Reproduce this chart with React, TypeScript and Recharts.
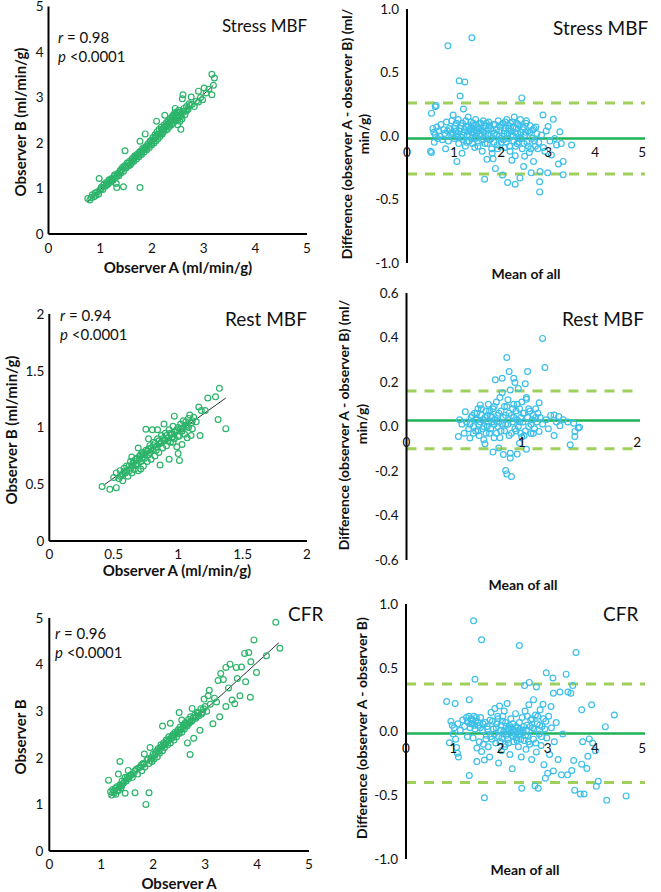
import { ScatterChart, Scatter, XAxis, YAxis, ReferenceLine, ReferenceDot } from 'recharts'

// [observer A, observer B] pairs
const stressPairs: [number, number][] = [
  [0.76, 0.78], [0.8, 0.75], [0.83, 0.8], [0.85, 0.86], [0.88, 0.82], [0.9, 0.9], [0.92, 0.85], [0.95, 0.93],
  [0.97, 0.88], [0.98, 1.22], [1.0, 0.97], [1.02, 1.03], [1.05, 0.98], [1.07, 1.08], [1.1, 1.05], [1.12, 1.13],
  [1.15, 1.1], [1.17, 1.19], [1.2, 1.14], [1.22, 1.22], [1.25, 1.18], [1.27, 1.27], [1.3, 1.24], [1.31, 1.11],
  [1.32, 1.02], [1.34, 1.33], [1.36, 1.28], [1.38, 1.38], [1.4, 1.34], [1.42, 1.42], [1.45, 1.04], [1.45, 1.38],
  [1.47, 1.5], [1.48, 1.83], [1.5, 1.45], [1.52, 1.56], [1.55, 1.5], [1.57, 1.6], [1.6, 1.55], [1.62, 1.66],
  [1.65, 1.6], [1.67, 1.72], [1.7, 1.65], [1.72, 1.76], [1.75, 1.7], [1.77, 2.04], [1.77, 1.02], [1.78, 1.82],
  [1.8, 1.75], [1.82, 1.88], [1.85, 1.8], [1.87, 2.2], [1.88, 1.92], [1.9, 1.85], [1.92, 1.98], [1.95, 1.9],
  [1.97, 2.05], [2.0, 1.96], [2.02, 2.12], [2.04, 2.0], [2.06, 2.18], [2.08, 2.05], [2.09, 2.48], [2.1, 2.25],
  [2.12, 2.1], [2.14, 2.3], [2.16, 2.15], [2.18, 2.35], [2.2, 2.2], [2.22, 2.24], [2.24, 2.4], [2.25, 2.61],
  [2.26, 2.28], [2.28, 2.45], [2.3, 2.3], [2.32, 2.5], [2.34, 2.36], [2.36, 2.55], [2.38, 2.4], [2.4, 2.58],
  [2.41, 2.61], [2.42, 2.45], [2.44, 2.66], [2.45, 2.76], [2.46, 2.5], [2.48, 2.68], [2.5, 2.4], [2.51, 2.55],
  [2.52, 2.72], [2.54, 2.48], [2.56, 2.3], [2.56, 2.62], [2.58, 2.53], [2.59, 2.97], [2.6, 3.06], [2.61, 2.7],
  [2.64, 2.62], [2.67, 2.8], [2.7, 2.75], [2.74, 2.83], [2.76, 3.01], [2.78, 2.85], [2.82, 2.8], [2.86, 2.92],
  [2.9, 2.9], [2.9, 3.14], [2.94, 3.0], [2.98, 2.95], [3.01, 3.21], [3.05, 3.1], [3.1, 3.18], [3.16, 3.06],
  [3.16, 3.51], [3.19, 3.27], [3.21, 3.43],
  [1.55, 1.56], [1.58, 1.52], [1.63, 1.62], [1.66, 1.68], [1.69, 1.7], [1.73, 1.72], [1.76, 1.8], [1.79, 1.78],
  [1.83, 1.84], [1.86, 1.9], [1.89, 1.88], [1.93, 1.94], [1.96, 2.02], [1.99, 2.0], [2.01, 2.05], [2.05, 2.1],
  [2.07, 2.14], [2.11, 2.18], [2.13, 2.2], [2.17, 2.22], [2.19, 2.28], [2.21, 2.32], [2.23, 2.3], [2.27, 2.36],
  [2.29, 2.38], [2.31, 2.42], [2.33, 2.4], [2.35, 2.46], [2.37, 2.48], [2.39, 2.5], [2.43, 2.54], [2.47, 2.6],
  [2.49, 2.62], [2.53, 2.6], [2.55, 2.68], [2.57, 2.58], [2.62, 2.76], [2.65, 2.7], [2.68, 2.72], [2.72, 2.86],
  [1.02, 1.0], [1.08, 1.1], [1.13, 1.08], [1.18, 1.16], [1.23, 1.2], [1.28, 1.3], [1.33, 1.28], [1.39, 1.4],
  [1.43, 1.46], [1.49, 1.48],
]

const restPairs: [number, number][] = [
  [0.41, 0.48], [0.47, 0.455], [0.5, 0.56], [0.52, 0.47], [0.52, 0.6], [0.54, 0.55], [0.55, 0.62], [0.56, 0.58],
  [0.57, 0.53], [0.58, 0.64], [0.59, 0.6], [0.6, 0.66], [0.61, 0.57], [0.62, 0.62], [0.63, 0.7], [0.64, 0.74],
  [0.64, 0.6], [0.65, 0.66], [0.66, 0.63], [0.67, 0.72], [0.68, 0.68], [0.69, 0.82], [0.69, 0.62], [0.7, 0.75],
  [0.71, 0.635], [0.71, 0.7], [0.72, 0.78], [0.73, 0.66], [0.74, 0.73], [0.75, 0.985], [0.75, 0.8], [0.76, 0.7],
  [0.77, 0.9], [0.77, 0.76], [0.78, 0.84], [0.79, 0.72], [0.8, 0.98], [0.8, 0.8], [0.81, 0.87], [0.82, 0.75],
  [0.83, 0.83], [0.84, 0.98], [0.84, 0.9], [0.85, 0.78], [0.86, 0.67], [0.86, 0.86], [0.87, 0.93], [0.88, 0.82],
  [0.89, 1.03], [0.89, 0.89], [0.9, 0.95], [0.91, 0.84], [0.92, 0.91], [0.93, 0.72], [0.93, 0.98], [0.94, 0.87],
  [0.95, 0.94], [0.96, 0.87], [0.96, 1.01], [0.97, 1.1], [0.97, 0.9], [0.98, 0.97], [0.99, 0.83], [1.0, 0.77],
  [1.0, 1.0], [1.01, 0.71], [1.01, 0.93], [1.02, 1.03], [1.03, 0.85], [1.03, 0.97], [1.04, 1.06], [1.05, 0.94],
  [1.06, 1.05], [1.07, 0.91], [1.07, 1.01], [1.08, 1.08], [1.09, 1.11], [1.1, 0.93], [1.1, 1.04], [1.11, 0.99],
  [1.12, 1.09], [1.14, 1.05], [1.16, 1.18], [1.17, 0.93], [1.18, 1.15], [1.21, 1.15], [1.23, 1.26], [1.29, 1.27],
  [1.31, 1.07], [1.32, 1.345], [1.37, 0.99],
  [0.55, 0.57], [0.57, 0.59], [0.58, 0.61], [0.6, 0.62], [0.62, 0.66], [0.63, 0.64], [0.65, 0.69], [0.66, 0.7],
  [0.67, 0.67], [0.68, 0.73], [0.7, 0.72], [0.71, 0.76], [0.72, 0.73], [0.73, 0.77], [0.74, 0.76], [0.76, 0.79],
  [0.77, 0.81], [0.78, 0.78], [0.79, 0.82], [0.81, 0.84], [0.82, 0.86], [0.83, 0.8], [0.85, 0.88], [0.87, 0.87],
  [0.88, 0.9], [0.9, 0.89], [0.91, 0.93], [0.92, 0.88], [0.94, 0.95], [0.95, 0.91], [0.97, 0.96], [0.99, 0.98],
  [1.0, 0.92], [1.02, 0.99], [1.04, 1.0], [1.06, 1.02], [1.08, 1.0], [1.11, 1.06],
]

const cfrPairs: [number, number][] = [
  [1.14, 1.52], [1.18, 1.27], [1.2, 1.2], [1.22, 1.32], [1.25, 1.25], [1.28, 1.22], [1.3, 1.38], [1.33, 1.65],
  [1.33, 1.3], [1.36, 1.92], [1.36, 1.42], [1.38, 1.35], [1.4, 1.5], [1.42, 1.45], [1.46, 1.24], [1.46, 1.58],
  [1.48, 1.5], [1.52, 1.73], [1.52, 1.55], [1.56, 1.62], [1.6, 1.58], [1.65, 1.25], [1.65, 1.72], [1.68, 1.76],
  [1.7, 1.65], [1.75, 1.8], [1.78, 1.72], [1.8, 1.88], [1.83, 2.08], [1.84, 1.8], [1.86, 1.0], [1.88, 1.95],
  [1.92, 1.25], [1.92, 1.88], [1.94, 2.22], [1.96, 2.0], [1.98, 1.92], [2.0, 2.08], [2.02, 1.98], [2.05, 2.12],
  [2.08, 2.02], [2.1, 2.2], [2.12, 2.1], [2.15, 2.28], [2.18, 2.68], [2.18, 2.15], [2.2, 2.32], [2.22, 2.22],
  [2.25, 2.38], [2.28, 2.28], [2.3, 2.45], [2.33, 2.74], [2.33, 2.32], [2.35, 2.42], [2.38, 2.5], [2.4, 2.38],
  [2.42, 2.55], [2.45, 2.45], [2.48, 2.6], [2.5, 2.97], [2.5, 2.52], [2.52, 2.66], [2.55, 2.81], [2.55, 2.55],
  [2.58, 2.7], [2.6, 2.62], [2.62, 2.76], [2.65, 2.68], [2.66, 2.32], [2.68, 2.82], [2.7, 2.75], [2.71, 2.07],
  [2.72, 2.88], [2.75, 3.06], [2.75, 2.8], [2.78, 2.42], [2.8, 2.92], [2.82, 2.85], [2.85, 2.98], [2.88, 2.9],
  [2.9, 2.59], [2.92, 3.05], [2.95, 2.98], [2.98, 3.26], [3.0, 3.1], [3.03, 3.0], [3.06, 3.33], [3.08, 3.45],
  [3.1, 3.15], [3.15, 2.73], [3.18, 3.28], [3.22, 3.2], [3.25, 3.66], [3.28, 2.88], [3.3, 3.81], [3.35, 3.68],
  [3.4, 3.1], [3.4, 3.94], [3.45, 3.5], [3.48, 4.01], [3.52, 3.24], [3.57, 3.16], [3.6, 3.94], [3.62, 3.7],
  [3.67, 3.33], [3.7, 3.95], [3.76, 4.24], [3.78, 3.63], [3.84, 4.26], [3.87, 3.3], [3.88, 4.06], [3.94, 4.53],
  [3.99, 3.83], [4.18, 4.19], [4.36, 4.91], [4.44, 4.35],
  [1.24, 1.28], [1.27, 1.34], [1.31, 1.3], [1.35, 1.38], [1.39, 1.4], [1.44, 1.48], [1.5, 1.58], [1.54, 1.6],
  [1.58, 1.64], [1.62, 1.66], [1.72, 1.78], [1.77, 1.84], [1.82, 1.86], [1.9, 1.98], [1.95, 1.94], [2.03, 2.06],
  [2.07, 2.15], [2.11, 2.14], [2.14, 2.22], [2.17, 2.24], [2.21, 2.28], [2.24, 2.3], [2.27, 2.36], [2.31, 2.4],
  [2.36, 2.46], [2.39, 2.44], [2.43, 2.5], [2.46, 2.56], [2.49, 2.55], [2.53, 2.6], [2.57, 2.64], [2.61, 2.7],
  [2.64, 2.74], [2.67, 2.72], [2.73, 2.78], [2.77, 2.86], [2.83, 2.88], [2.87, 2.96], [2.93, 2.94], [2.97, 3.05],
]

// [mean of all, difference A - B] pairs
const stressDiff: [number, number][] = [
  [0.5, -0.12], [0.52, 0.18], [0.52, -0.13], [0.55, 0.06], [0.57, 0.03], [0.58, -0.05], [0.6, 0.23], [0.6, 0.01],
  [0.62, 0.24], [0.63, 0.07], [0.65, -0.02], [0.68, 0.04], [0.7, 0.0], [0.72, 0.09], [0.75, -0.03], [0.78, 0.05],
  [0.8, 0.02], [0.82, -0.1], [0.84, 0.11], [0.86, 0.04], [0.87, 0.71], [0.88, -0.04], [0.9, 0.06], [0.93, 0.01],
  [0.95, 0.12], [0.97, 0.03], [0.98, 0.165], [1.0, -0.02], [1.02, 0.08], [1.04, 0.04], [1.06, -0.2], [1.07, 0.02],
  [1.09, 0.13], [1.1, -0.06], [1.11, 0.435], [1.13, 0.315], [1.14, 0.06], [1.16, -0.01], [1.17, -0.136], [1.18, 0.1],
  [1.2, 0.213], [1.21, 0.03], [1.23, 0.425], [1.24, -0.08], [1.26, 0.07], [1.28, 0.01], [1.3, 0.15], [1.32, -0.04],
  [1.34, 0.05], [1.36, 0.11], [1.38, 0.774], [1.38, -0.02], [1.4, 0.08], [1.42, 0.03], [1.44, -0.09], [1.46, 0.13],
  [1.48, 0.02], [1.5, 0.07], [1.52, -0.05], [1.54, 0.1], [1.56, 0.0], [1.58, 0.05], [1.6, -0.12], [1.62, 0.12],
  [1.64, 0.03], [1.65, -0.34], [1.66, -0.06], [1.68, 0.08], [1.7, -0.184], [1.72, 0.01], [1.74, 0.11], [1.76, -0.03],
  [1.78, 0.06], [1.8, -0.1], [1.81, -0.136], [1.83, -0.18], [1.84, 0.09], [1.86, 0.02], [1.88, -0.255], [1.9, 0.05],
  [1.92, -0.07], [1.94, 0.12], [1.96, 0.0], [1.98, 0.07], [2.0, -0.05], [2.03, -0.307], [2.04, 0.1], [2.06, 0.02],
  [2.08, -0.09], [2.1, 0.06], [2.12, 0.13], [2.14, -0.366], [2.15, -0.02], [2.17, 0.08], [2.19, -0.12], [2.21, 0.04],
  [2.23, -0.19], [2.24, 0.11], [2.26, 0.0], [2.28, 0.15], [2.3, -0.155], [2.3, -0.38], [2.32, 0.06], [2.34, -0.06],
  [2.36, 0.09], [2.38, -0.02], [2.4, -0.33], [2.41, 0.13], [2.42, 0.03], [2.44, 0.3], [2.45, -0.1], [2.47, 0.07],
  [2.48, -0.24], [2.5, -0.16], [2.51, 0.01], [2.53, 0.1], [2.55, -0.05], [2.57, 0.04], [2.6, -0.13], [2.62, 0.08],
  [2.64, -0.29], [2.66, -0.02], [2.69, -0.2], [2.7, 0.06], [2.73, -0.08], [2.76, 0.02], [2.8, -0.05], [2.82, -0.36],
  [2.82, -0.44], [2.83, -0.28], [2.86, 0.008], [2.89, 0.165], [2.9, -0.09], [2.93, -0.12], [2.96, 0.04], [2.99, -0.29],
  [3.0, 0.074], [3.04, -0.04], [3.07, -0.15], [3.11, 0.131], [3.14, -0.02], [3.18, -0.07], [3.22, -0.22], [3.25, 0.034],
  [3.28, -0.06], [3.32, -0.2], [3.32, -0.305], [3.5, -0.071],
  [0.92, 0.05], [0.96, 0.02], [1.01, 0.06], [1.05, 0.1], [1.08, -0.01], [1.12, 0.04], [1.15, 0.08], [1.19, -0.03],
  [1.22, 0.05], [1.25, 0.12], [1.27, -0.05], [1.29, 0.04], [1.31, 0.08], [1.33, 0.0], [1.35, 0.06], [1.37, 0.03],
  [1.39, -0.06], [1.41, 0.1], [1.43, 0.05], [1.45, -0.02], [1.47, 0.09], [1.49, 0.04], [1.51, -0.08], [1.53, 0.06],
  [1.55, 0.02], [1.57, 0.1], [1.59, -0.03], [1.61, 0.04], [1.63, 0.08], [1.67, 0.02], [1.69, 0.1], [1.71, -0.06],
  [1.73, 0.05], [1.75, 0.08], [1.79, -0.02], [1.82, 0.04], [1.85, -0.05], [1.87, 0.09], [1.91, 0.01], [1.93, -0.1],
  [1.97, 0.04], [1.99, -0.02], [2.01, 0.09], [2.05, -0.03], [2.07, 0.04], [2.09, 0.11], [2.11, -0.05], [2.13, 0.02],
  [2.16, 0.06], [2.18, -0.08], [2.2, 0.1], [2.22, 0.01], [2.25, 0.07], [2.27, -0.04], [2.29, 0.03], [2.31, -0.08],
  [2.33, 0.1], [2.35, 0.02], [2.37, -0.05], [2.39, 0.08], [2.43, -0.02], [2.46, 0.05], [2.49, -0.06], [2.52, 0.03],
  [2.54, 0.12], [2.58, -0.08], [2.61, 0.03], [2.63, -0.1], [2.67, 0.05], [2.71, -0.04], [2.74, 0.07], [2.78, -0.1],
]

const restDiff: [number, number][] = [
  [0.45, -0.045], [0.46, 0.03], [0.48, 0.01], [0.5, -0.03], [0.51, 0.066], [0.52, 0.02], [0.54, -0.01], [0.55, -0.052],
  [0.56, 0.04], [0.58, 0.0], [0.59, 0.06], [0.6, -0.02], [0.61, 0.03], [0.62, 0.08], [0.63, -0.04], [0.64, 0.097],
  [0.64, 0.02], [0.65, 0.05], [0.66, -0.01], [0.67, -0.06], [0.68, -0.078], [0.68, 0.04], [0.69, 0.07], [0.7, 0.0],
  [0.71, 0.1], [0.72, -0.03], [0.73, 0.05], [0.74, 0.02], [0.75, -0.115], [0.75, 0.08], [0.76, -0.05], [0.77, 0.21],
  [0.77, 0.03], [0.78, 0.11], [0.79, 0.0], [0.8, -0.097], [0.8, 0.06], [0.81, 0.13], [0.82, -0.02], [0.83, 0.217],
  [0.83, 0.152], [0.84, -0.126], [0.84, 0.04], [0.85, 0.09], [0.86, -0.198], [0.86, 0.01], [0.87, 0.31], [0.87, -0.213],
  [0.88, 0.12], [0.89, 0.247], [0.89, -0.04], [0.9, 0.164], [0.9, -0.12], [0.9, -0.142], [0.91, -0.225], [0.91, 0.05],
  [0.92, 0.02], [0.93, 0.217], [0.93, 0.1], [0.94, 0.198], [0.94, -0.01], [0.95, 0.07], [0.96, -0.124], [0.96, 0.03],
  [0.97, 0.171], [0.97, 0.0], [0.98, -0.075], [0.98, 0.08], [0.99, 0.04], [1.0, -0.047], [1.0, 0.11], [1.01, 0.02],
  [1.02, 0.06], [1.03, 0.192], [1.03, -0.02], [1.04, 0.13], [1.04, 0.122], [1.04, -0.102], [1.05, 0.247], [1.05, 0.04],
  [1.06, 0.0], [1.07, 0.07], [1.08, -0.032], [1.09, 0.03], [1.1, 0.05], [1.11, -0.01], [1.12, 0.08], [1.13, 0.02],
  [1.15, 0.107], [1.15, -0.022], [1.16, 0.04], [1.18, 0.396], [1.18, 0.01], [1.2, 0.265], [1.21, 0.03], [1.23, -0.01],
  [1.25, 0.05], [1.28, 0.052], [1.28, -0.041], [1.3, 0.02], [1.32, 0.045], [1.33, 0.003], [1.36, 0.03], [1.4, 0.02],
  [1.42, -0.082], [1.45, 0.015], [1.46, -0.022], [1.46, -0.045], [1.49, -0.007], [1.5, -0.003],
  [0.55, 0.01], [0.57, 0.05], [0.58, -0.03], [0.6, 0.03], [0.61, 0.06], [0.62, -0.02], [0.63, 0.01], [0.65, 0.08],
  [0.66, 0.03], [0.67, 0.0], [0.69, -0.03], [0.7, 0.05], [0.71, 0.02], [0.72, 0.07], [0.73, -0.01], [0.74, 0.04],
  [0.76, 0.01], [0.76, 0.09], [0.78, -0.03], [0.79, 0.05], [0.8, 0.02], [0.81, -0.05], [0.82, 0.07], [0.83, 0.01],
  [0.85, -0.02], [0.86, 0.05], [0.87, 0.09], [0.88, 0.01], [0.89, 0.06], [0.91, -0.03], [0.92, 0.08], [0.93, 0.04],
  [0.95, -0.02], [0.96, 0.1], [0.98, 0.02], [0.99, -0.03], [1.01, 0.06], [1.02, -0.04], [1.06, 0.08], [1.08, 0.01],
  [1.1, -0.03], [1.12, 0.04], [1.14, 0.06],
]

const cfrDiff: [number, number][] = [
  [0.86, 0.235], [0.92, -0.088], [0.95, 0.08], [0.98, 0.05], [1.0, -0.02], [1.02, 0.03], [1.04, 0.22], [1.05, -0.06],
  [1.07, -0.125], [1.09, -0.17], [1.1, 0.06], [1.11, -0.2], [1.15, 0.01], [1.2, 0.09], [1.24, 0.04], [1.28, 0.11],
  [1.3, -0.04], [1.32, 0.07], [1.34, 0.25], [1.34, -0.345], [1.36, 0.03], [1.38, 0.1], [1.4, 0.06], [1.42, -0.05],
  [1.43, 0.868], [1.44, 0.12], [1.46, 0.41], [1.46, 0.02], [1.48, 0.08], [1.5, -0.13], [1.5, -0.236], [1.52, 0.05],
  [1.55, -0.08], [1.58, 0.11], [1.6, 0.72], [1.6, -0.157], [1.62, 0.01], [1.64, -0.1], [1.66, -0.52], [1.66, -0.223],
  [1.68, 0.07], [1.7, -0.03], [1.72, 0.04], [1.74, -0.12], [1.77, -0.2], [1.78, 0.09], [1.8, 0.15], [1.82, -0.06],
  [1.85, 0.02], [1.88, 0.18], [1.9, -0.09], [1.92, 0.06], [1.94, 0.12], [1.96, -0.248], [1.96, -0.04], [1.98, 0.2],
  [2.0, 0.01], [2.02, -0.15], [2.04, 0.08], [2.06, -0.02], [2.08, 0.16], [2.1, -0.1], [2.12, 0.04], [2.14, 0.22],
  [2.16, -0.06], [2.18, 0.02], [2.2, -0.18], [2.22, 0.1], [2.24, -0.03], [2.25, -0.293], [2.26, 0.06], [2.28, -0.08],
  [2.3, 0.0], [2.32, 0.14], [2.34, -0.05], [2.36, 0.03], [2.38, -0.12], [2.4, 0.675], [2.4, 0.07], [2.42, -0.02],
  [2.44, -0.2], [2.45, -0.445], [2.46, 0.11], [2.48, 0.01], [2.5, -0.07], [2.51, 0.36], [2.52, 0.16], [2.54, -0.14],
  [2.56, 0.05], [2.58, -0.03], [2.6, 0.21], [2.61, 0.385], [2.62, -0.1], [2.64, 0.09], [2.66, -0.22], [2.68, 0.03],
  [2.7, 0.25], [2.7, -0.06], [2.73, -0.426], [2.74, 0.13], [2.76, 0.35], [2.76, -0.16], [2.78, 0.06], [2.8, -0.445],
  [2.82, -0.02], [2.84, 0.17], [2.86, -0.11], [2.88, 0.04], [2.9, 0.214], [2.92, -0.26], [2.95, -0.366], [2.96, 0.08],
  [2.97, 0.46], [2.98, -0.05], [3.0, -0.327], [3.02, 0.12], [3.04, -0.18], [3.07, 0.196], [3.08, 0.03], [3.11, 0.42],
  [3.12, -0.31], [3.12, 0.3], [3.14, -0.08], [3.18, 0.07], [3.22, -0.22], [3.26, 0.31], [3.29, -0.34], [3.32, -0.02],
  [3.39, 0.45], [3.42, -0.34], [3.43, 0.31], [3.49, 0.3], [3.51, -0.306], [3.53, 0.36], [3.55, -0.227], [3.57, -0.46],
  [3.6, 0.62], [3.69, -0.49], [3.72, 0.17], [3.72, -0.256], [3.74, -0.08], [3.77, -0.49], [3.83, -0.29], [3.85, -0.194],
  [3.88, -0.058], [3.93, 0.21], [3.95, -0.09], [4.01, -0.15], [4.03, -0.43], [4.07, -0.39], [4.22, 0.038], [4.25, -0.54],
  [4.41, 0.13], [4.66, -0.505],
  [1.3, 0.08], [1.33, 0.12], [1.37, 0.06], [1.41, 0.09], [1.45, 0.05], [1.49, 0.11], [1.53, 0.07], [1.57, 0.03],
  [1.63, 0.06], [1.69, -0.06], [1.73, 0.02], [1.79, -0.04], [1.83, 0.08], [1.87, -0.02], [1.91, 0.03], [1.95, 0.1],
  [1.99, -0.08], [2.01, 0.05], [2.03, -0.05], [2.05, 0.12], [2.07, 0.0], [2.09, -0.12], [2.11, 0.07], [2.13, -0.03],
  [2.15, 0.02], [2.17, -0.09], [2.19, 0.05], [2.21, -0.01], [2.23, 0.03], [2.27, -0.04], [2.29, 0.01], [2.31, -0.02],
  [2.33, 0.04], [2.35, -0.07], [2.37, 0.0], [2.39, -0.03], [2.41, 0.02], [2.43, -0.06], [2.47, -0.01], [2.49, 0.04],
  [2.53, -0.03], [2.55, 0.01], [2.57, 0.12], [2.59, -0.08], [2.63, 0.04], [2.67, 0.1], [2.71, 0.02], [2.75, -0.09],
  [2.79, 0.12], [2.83, 0.05], [2.87, -0.04], [2.91, 0.1], [2.94, 0.02],
]

// regression line end points, and bias / limits of agreement
const stressFit = [{ x: 0.75, y: 0.71 }, { x: 3.19, y: 3.27 }]
const restFit = [{ x: 0.42, y: 0.49 }, { x: 1.37, y: 1.26 }]
const cfrFit = [{ x: 1.15, y: 1.15 }, { x: 4.42, y: 4.47 }]
const stressLimits = { mean: -0.02, upper: 0.26, lower: -0.3 }
const restLimits = { mean: 0.027, upper: 0.16, lower: -0.1 }
const cfrLimits = { mean: -0.015, upper: 0.372, lower: -0.4 }

const ticks0to5 = [0, 1, 2, 3, 4, 5]
const ticks0to2 = [0, 0.5, 1, 1.5, 2]
const ticks0to2Whole = [0, 1, 2]
const diffTicks1 = [-1, -0.5, 0, 0.5, 1]
const diffTicks06 = [-0.6, -0.4, -0.2, 0, 0.2, 0.4, 0.6]

const FONT = 'Lato, "Open Sans", sans-serif'
const INK = '#111'
const GREEN_DOT = '#2cb46a'
const BLUE_DOT = '#3cbfe9'
const MEAN_GREEN = '#1fb258'
const LIMIT_GREEN = '#9fd05c'

type Frame = { left: number; top: number; width: number; height: number }
type Plot = { x0: number; x1: number; y0: number; y1: number }

const hollow = (color: string) => (p: any) =>
  <circle cx={p.cx} cy={p.cy} r={2.9} fill="none" stroke={color} strokeWidth={1.2} />

const tickStyle = { fontSize: 13.5, fill: INK, fontFamily: FONT }
const axisStroke = { stroke: '#000', strokeWidth: 2 }

function CorrPanel({ frame, plot, xMax, yMax, xTicks, yTicks, pairs, fit, xGap, yGap }: {
  frame: Frame; plot: Plot; xMax: number; yMax: number; xTicks: number[]; yTicks: number[]
  pairs: [number, number][]; fit: { x: number; y: number }[]; xGap: number; yGap: number
}) {
  const data = pairs.map(([x, y]) => ({ x, y }))
  return (
    <div style={{ position: 'absolute', left: frame.left, top: frame.top }}>
      <ScatterChart
        width={frame.width}
        height={frame.height}
        margin={{ top: plot.y0 - frame.top, right: frame.left + frame.width - plot.x1, bottom: 0, left: 0 }}
      >
        <XAxis
          type="number"
          dataKey="x"
          domain={[0, xMax]}
          ticks={xTicks}
          interval={0}
          height={frame.top + frame.height - plot.y1}
          axisLine={axisStroke}
          tickLine={false}
          tickSize={0}
          tickMargin={xGap}
          tick={tickStyle}
        />
        <YAxis
          type="number"
          dataKey="y"
          domain={[0, yMax]}
          ticks={yTicks}
          interval={0}
          width={plot.x0 - frame.left}
          axisLine={axisStroke}
          tickLine={false}
          tickSize={0}
          tickMargin={yGap}
          tick={tickStyle}
        />
        <Scatter data={data} isAnimationActive={false} shape={hollow(GREEN_DOT)} />
        <ReferenceLine segment={fit} stroke="#333" strokeWidth={1} ifOverflow="visible" />
      </ScatterChart>
    </div>
  )
}

function DiffPanel({ frame, plot, xMax, yLim, xTicks, yTicks, pairs, limits, labelGap }: {
  frame: Frame; plot: Plot; xMax: number; yLim: number; xTicks: number[]; yTicks: number[]
  pairs: [number, number][]; limits: { mean: number; upper: number; lower: number }; labelGap: number
}) {
  const data = pairs.map(([x, y]) => ({ x, y }))
  return (
    <div style={{ position: 'absolute', left: frame.left, top: frame.top }}>
      <ScatterChart
        width={frame.width}
        height={frame.height}
        margin={{
          top: plot.y0 - frame.top,
          right: frame.left + frame.width - plot.x1,
          bottom: frame.top + frame.height - plot.y1,
          left: 0,
        }}
      >
        <XAxis type="number" dataKey="x" domain={[0, xMax]} hide />
        <YAxis
          type="number"
          dataKey="y"
          domain={[-yLim, yLim]}
          ticks={yTicks}
          interval={0}
          width={plot.x0 - frame.left}
          axisLine={axisStroke}
          tickLine={false}
          tickSize={0}
          tickMargin={8}
          tick={tickStyle}
          tickFormatter={(v: number) => v.toFixed(1)}
        />
        <ReferenceLine y={limits.upper} stroke={LIMIT_GREEN} strokeWidth={3} strokeDasharray="10 8" />
        <ReferenceLine y={limits.lower} stroke={LIMIT_GREEN} strokeWidth={3} strokeDasharray="10 8" />
        <Scatter data={data} isAnimationActive={false} shape={hollow(BLUE_DOT)} />
        <ReferenceLine y={limits.mean} stroke={MEAN_GREEN} strokeWidth={2.5} />
        {xTicks.map(t => (
          <ReferenceDot
            key={t}
            x={t}
            y={0}
            r={1}
            fillOpacity={0}
            strokeOpacity={0}
            label={{ value: String(t), position: 'bottom', offset: labelGap, ...tickStyle }}
          />
        ))}
      </ScatterChart>
    </div>
  )
}

function Txt({ x, y, size, children }: { x: number; y: number; size: number; children: any }) {
  return (
    <div style={{
      position: 'absolute', left: x, top: y, transform: 'translateY(-50%)', fontSize: size,
      color: INK, whiteSpace: 'nowrap', lineHeight: 1,
    }}>{children}</div>
  )
}

function Centered({ x, y, size, rotate, children }: { x: number; y: number; size: number; rotate?: boolean; children: any }) {
  return (
    <div style={{
      position: 'absolute', left: x, top: y,
      transform: `translate(-50%, -50%)${rotate ? ' rotate(-90deg)' : ''}`,
      fontSize: size, fontWeight: 700, color: INK, whiteSpace: 'nowrap', lineHeight: 1,
    }}>{children}</div>
  )
}

function Stats({ x, y, r }: { x: number; y: number; r: string }) {
  return (
    <>
      <Txt x={x} y={y} size={15}><i>r</i> = {r}</Txt>
      <Txt x={x} y={y + 19} size={15}><i>p</i> &lt;0.0001</Txt>
    </>
  )
}

export default function App() {
  return (
    <div style={{
      position: 'absolute', left: 0, top: 0, width: 661, height: 892, background: '#fff',
      fontFamily: FONT, overflow: 'hidden',
    }}>
      <CorrPanel
        frame={{ left: 0, top: -12, width: 330, height: 302 }}
        plot={{ x0: 48.5, x1: 307, y0: 6.5, y1: 234 }}
        xMax={5} yMax={5} xTicks={ticks0to5} yTicks={ticks0to5}
        pairs={stressPairs} fit={stressFit} xGap={9} yGap={5}
      />
      <DiffPanel
        frame={{ left: 330, top: -12, width: 331, height: 302 }}
        plot={{ x0: 407, x1: 645, y0: 9, y1: 263 }}
        xMax={5.06} yLim={1} xTicks={ticks0to5} yTicks={diffTicks1}
        pairs={stressDiff} limits={stressLimits} labelGap={10}
      />
      <CorrPanel
        frame={{ left: 0, top: 278, width: 330, height: 312 }}
        plot={{ x0: 49.3, x1: 307, y0: 314, y1: 541 }}
        xMax={2} yMax={2} xTicks={ticks0to2} yTicks={ticks0to2}
        pairs={restPairs} fit={restFit} xGap={8} yGap={5}
      />
      <DiffPanel
        frame={{ left: 330, top: 278, width: 331, height: 312 }}
        plot={{ x0: 406.5, x1: 640, y0: 293, y1: 560 }}
        xMax={2.025} yLim={0.6} xTicks={ticks0to2Whole} yTicks={diffTicks06}
        pairs={restDiff} limits={restLimits} labelGap={10}
      />
      <CorrPanel
        frame={{ left: 0, top: 578, width: 330, height: 314 }}
        plot={{ x0: 49.3, x1: 309, y0: 618, y1: 851 }}
        xMax={5} yMax={5} xTicks={ticks0to5} yTicks={ticks0to5}
        pairs={cfrPairs} fit={cfrFit} xGap={8} yGap={6}
      />
      <DiffPanel
        frame={{ left: 330, top: 578, width: 331, height: 314 }}
        plot={{ x0: 406, x1: 645, y0: 604, y1: 859 }}
        xMax={5.06} yLim={1} xTicks={ticks0to5} yTicks={diffTicks1}
        pairs={cfrDiff} limits={cfrLimits} labelGap={11}
      />

      {/* panel titles and statistics */}
      <Txt x={222} y={25} size={17}>Stress MBF</Txt>
      <Stats x={58} y={37} r="0.98" />
      <Txt x={553} y={27} size={19}>Stress MBF</Txt>
      <Txt x={225} y={318} size={19}>Rest MBF</Txt>
      <Stats x={60} y={315} r="0.94" />
      <Txt x={562} y={318} size={19}>Rest MBF</Txt>
      <Txt x={288} y={613} size={19}>CFR</Txt>
      <Stats x={55} y={633} r="0.96" />
      <Txt x={603} y={613} size={19}>CFR</Txt>

      {/* axis titles */}
      <Centered x={178} y={267} size={15}>Observer A (ml/min/g)</Centered>
      <Centered x={20} y={122} size={15} rotate>Observer B (ml/min/g)</Centered>
      <Centered x={526} y={274} size={14}>Mean of all</Centered>
      <Centered x={347} y={134} size={14} rotate>Difference (observer A - observer B) (ml/</Centered>
      <Centered x={364} y={134} size={14} rotate>min/g)</Centered>

      <Centered x={177} y={570} size={15}>Observer A (ml/min/g)</Centered>
      <Centered x={11} y={430} size={15} rotate>Observer B (ml/min/g)</Centered>
      <Centered x={523} y={585} size={14}>Mean of all</Centered>
      <Centered x={344} y={425} size={14} rotate>Difference (observer A - observer B) (ml/</Centered>
      <Centered x={362} y={424} size={14} rotate>min/g)</Centered>

      <Centered x={179} y={883} size={15}>Observer A</Centered>
      <Centered x={20} y={737} size={15} rotate>Observer B</Centered>
      <Centered x={525} y={870} size={14}>Mean of all</Centered>
      <Centered x={362} y={728} size={14} rotate>Difference (observer A - observer B)</Centered>
    </div>
  )
}
